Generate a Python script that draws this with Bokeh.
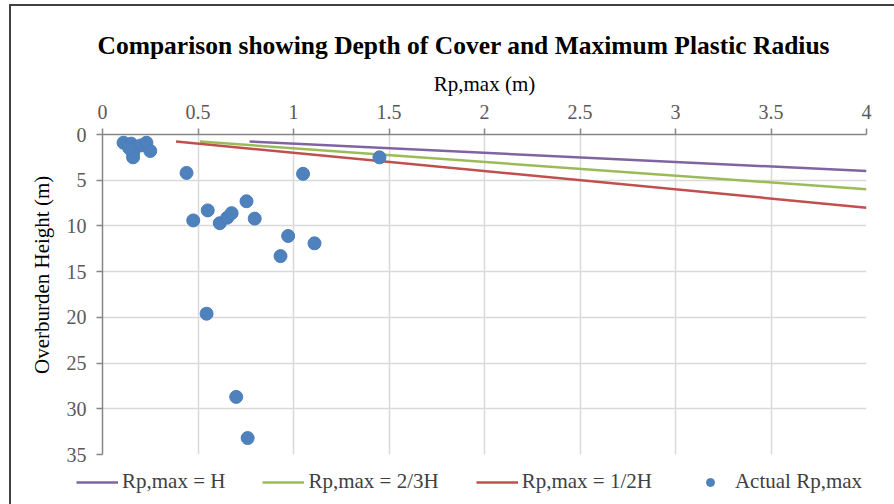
from bokeh.plotting import figure
from bokeh.layouts import column
from bokeh.models import Range1d, Legend, LegendItem, FixedTicker, Title
from bokeh.embed import file_html
from bokeh.resources import INLINE

# ---- data ----
x_ticks = [0, 0.5, 1, 1.5, 2, 2.5, 3, 3.5, 4]
y_ticks = [0, 5, 10, 15, 20, 25, 30, 35]

# Actual Rp,max (m) vs overburden height (m)
actual_rp = [0.11, 0.15, 0.17, 0.20, 0.23, 0.25, 0.16, 0.16, 0.14,
             0.44, 1.45, 1.05,
             0.475, 0.551, 0.614, 0.653, 0.676, 0.754, 0.797,
             0.972, 1.11, 0.932, 0.545, 0.70, 0.76]
actual_h = [0.9, 1.0, 1.4, 1.2, 0.9, 1.8, 2.0, 2.5, 1.5,
            4.2, 2.5, 4.3,
            9.4, 8.3, 9.7, 9.1, 8.6, 7.3, 9.2,
            11.1, 11.9, 13.3, 19.6, 28.7, 33.2]

# Reference lines
rp_h_x = [0.77, 4.0]
rp_h_y = [0.77, 4.0]
rp_23_x = [0.51, 4.0]
rp_23_y = [0.77, 6.0]
rp_12_x = [0.385, 4.0]
rp_12_y = [0.77, 8.0]

legend_labels = ["Rp,max = H", "Rp,max = 2/3H", "Rp,max = 1/2H", "Actual Rp,max"]

FONT = "Liberation Serif"
C_H, C_23, C_12, C_PT = "#8064A2", "#9BBB59", "#C0504D", "#4F81BD"

p = figure(width=894, height=468, output_backend="svg", toolbar_location=None,
           x_range=Range1d(0, 4), y_range=Range1d(35, 0),
           x_axis_location="above",
           min_border_left=102, min_border_right=28,
           min_border_top=134, min_border_bottom=14)
p.frame_align = False

p.title.text = "Comparison showing Depth of Cover and Maximum Plastic Radius"
p.title.align = "left"
p.title.offset = -5
p.title.text_font = FONT
p.title.text_font_style = "bold"
p.title.text_font_size = "25.5px"
p.title.text_color = "#000000"
p.title.standoff = 17

p.outline_line_color = None
p.background_fill_color = "white"
p.border_fill_alpha = 0

xa = p.xaxis[0]
xa.ticker = FixedTicker(ticks=x_ticks)
xa.axis_label = "Rp,max (m)"
ya = p.yaxis[0]
ya.ticker = FixedTicker(ticks=y_ticks)

for ax in (xa, ya):
    ax.axis_label_text_font = FONT
    ax.axis_label_text_font_style = "normal"
    ax.axis_label_text_font_size = "21px"
    ax.axis_label_text_color = "#000000"
    ax.major_label_text_font = FONT
    ax.major_label_text_font_size = "20px"
    ax.major_label_text_color = "#595959"
    ax.axis_line_color = "#868686"
    ax.axis_line_width = 1.5
    ax.major_tick_line_color = "#868686"
    ax.major_tick_line_width = 1.5
    ax.major_tick_in = 0
    ax.major_tick_out = 6
    ax.minor_tick_line_color = None

xa.major_label_standoff = 10
xa.axis_label_standoff = 6
ya.major_label_standoff = 10

# y-axis title, placed like the reference (nearer the top of the frame)
ytitle = Title(text="Overburden Height  (m)", align="right", offset=36,
               text_font=FONT, text_font_size="21px", text_font_style="normal",
               text_color="#000000", standoff=20)
p.add_layout(ytitle, "left")

for g in (p.xgrid[0], p.ygrid[0]):
    g.grid_line_color = "#d9d9d9"
    g.grid_line_width = 1.5
p.xgrid[0].ticker = FixedTicker(ticks=x_ticks)
p.ygrid[0].ticker = FixedTicker(ticks=y_ticks)

p.line(rp_h_x, rp_h_y, line_color=C_H, line_width=2.5)
p.line(rp_23_x, rp_23_y, line_color=C_23, line_width=2.5)
p.line(rp_12_x, rp_12_y, line_color=C_12, line_width=2.5)
p.scatter(actual_rp, actual_h, size=13, fill_color=C_PT,
          line_color="#4A7EBB", line_width=1)

# legend strip below the plot (same series, drawn out of view so only the key shows)
p2 = figure(width=894, height=36, output_backend="svg", toolbar_location=None,
            x_range=Range1d(100, 101), y_range=Range1d(100, 101),
            x_axis_type=None, y_axis_type=None, title=None,
            min_border=0, min_border_left=0, min_border_right=0,
            min_border_top=0, min_border_bottom=0)
p2.frame_align = False
p2.outline_line_color = None
p2.xgrid.visible = False
p2.ygrid.visible = False
p2.background_fill_alpha = 0
p2.border_fill_alpha = 0
l1 = p2.line(rp_h_x, rp_h_y, line_color=C_H, line_width=2.5)
l2 = p2.line(rp_23_x, rp_23_y, line_color=C_23, line_width=2.5)
l3 = p2.line(rp_12_x, rp_12_y, line_color=C_12, line_width=2.5)
l4 = p2.scatter(actual_rp, actual_h, size=9, fill_color=C_PT, line_color=C_PT)

legend = Legend(items=[
    LegendItem(label=legend_labels[0], renderers=[l1]),
    LegendItem(label=legend_labels[1], renderers=[l2]),
    LegendItem(label=legend_labels[2], renderers=[l3]),
    LegendItem(label=legend_labels[3], renderers=[l4]),
], orientation="horizontal", location=(76, 10))
legend.label_text_font = FONT
legend.label_text_font_size = "21px"
legend.label_text_color = "#404040"
legend.glyph_width = 42
legend.glyph_height = 20
legend.label_height = 20
legend.label_standoff = 4
legend.spacing = 37
legend.padding = 0
legend.margin = 0
legend.border_line_color = None
legend.background_fill_alpha = 0
p2.add_layout(legend)

layout = column(p, p2, spacing=0)
# chart-area border visible on the left and top edges of the reference
layout.styles = {"background-color": "white",
                 "box-shadow": "inset 9px 4px 0 0 white, inset 11px 6px 0 0 #404040"}

open("out.html", "w").write(file_html(layout, INLINE))
